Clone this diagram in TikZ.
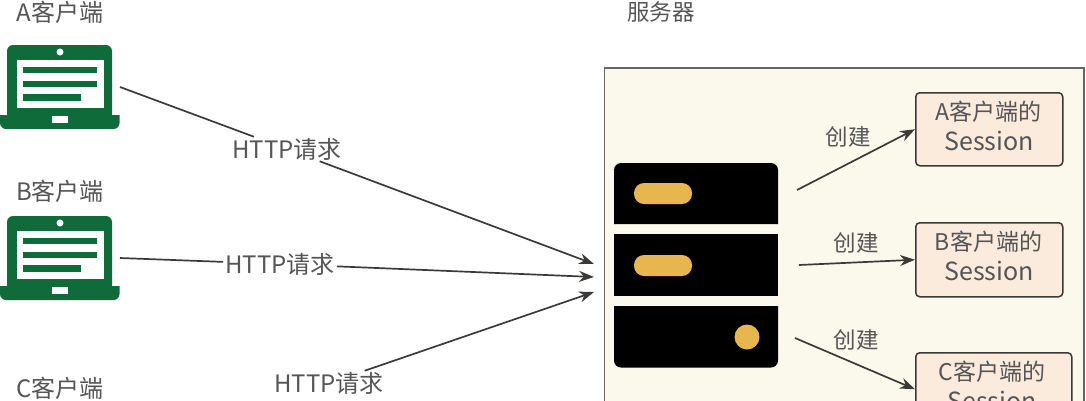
\documentclass[tikz,border=0pt]{standalone}
\usepackage{fontspec}
\setmainfont{Noto Sans CJK SC}
\usetikzlibrary{arrows.meta}
\definecolor{txt}{HTML}{555555}
\definecolor{lnk}{HTML}{3A3A38}
\definecolor{lap}{HTML}{0F6B3A}
\definecolor{panel}{HTML}{FBF8EC}
\definecolor{sess}{HTML}{FAEBDD}
\definecolor{pill}{HTML}{E8B64E}
\tikzset{
  x=1pt,y=-1pt,
  lbl/.style={text=txt,font=\fontsize{24}{28}\selectfont,inner sep=0pt},
  srvlbl/.style={text=txt,font=\fontsize{22.5}{26}\selectfont,inner sep=0pt},
  reqlbl/.style={lbl,fill=white,inner xsep=2pt,inner ysep=1pt},
  mklbl/.style={text=txt,font=\fontsize{22.5}{26}\selectfont,inner sep=0pt},
  sessbox/.style={draw=lnk,line width=1.5pt,fill=sess,rounded corners=4pt,anchor=north west,inner sep=0pt},
  sesstext/.style={text=txt,font=\fontsize{25}{30}\selectfont,inner sep=0pt},
  sesshead/.style={text=txt,font=\fontsize{23}{28}\selectfont,inner sep=0pt},
  link/.style={draw=lnk,line width=1.7pt},
  arrow/.style={link,-{Stealth[length=15pt,width=11pt]}},
  lapbox/.style={minimum width=120pt,minimum height=84pt,inner sep=0pt,outer sep=0pt},
}
\newcommand{\drawlaptop}[1]{%
  \begin{scope}[shift={(0,#1)}]
    \fill[lap] (7,75) [rounded corners=6pt] -- (7,0) -- (112,0) [sharp corners] -- (112,75) -- cycle;
    \fill[lap] (0,70) [rounded corners=6pt] -- (0,84) -- (119.5,84) [sharp corners] -- (119.5,70) -- cycle;
    \fill[white] (16.5,15) rectangle (104,63);
    \fill[white] (60,7) circle (3.5);
    \fill[lap] (23,21.5) rectangle (97,27.5);
    \fill[lap] (23,36) rectangle (97,42);
    \fill[lap] (23,49) rectangle (81,56);
    \fill[white] (52,70.5) rectangle (68,78);
  \end{scope}}
\begin{document}
\begin{tikzpicture}
\useasboundingbox (0,0) rectangle (1086,400);
\clip (0,0) rectangle (1086,400);
% clients
\node[lbl] (tA) at (60,12) {A客户端};
\node[lbl] (tB) at (60,191) {B客户端};
\node[lbl] (tC) at (60,388) {C客户端};
\node[srvlbl] (tS) at (661,12) {服务器};
\drawlaptop{45}
\drawlaptop{216}
\node[lapbox] (lapA) at (60,87) {};
\node[lapbox] (lapB) at (60,258) {};
% server panel
\fill[panel,draw=black!60,line width=1.5pt] (604.5,68) rectangle (1084,430);
% server icon
\fill[black] (614,224) [rounded corners=7pt] -- (614,163) -- (778,163) [sharp corners] -- (778,224) -- cycle;
\fill[black] (614,234) rectangle (778,296);
\fill[black] (614,306) [rounded corners=7pt] -- (614,367.5) -- (778,367.5) [sharp corners] -- (778,306) -- cycle;
\fill[pill,rounded corners=10pt] (634,183) rectangle (692,204);
\fill[pill,rounded corners=10pt] (634,255) rectangle (692,276);
\fill[pill] (747,337) circle (12.5);
\coordinate (inA) at (594,264);
\coordinate (inB) at (594,277);
\coordinate (inC) at (594,292);
\coordinate (outA) at (797,190);
\coordinate (outB) at (799,265);
\coordinate (outC) at (795,338);
% sessions
\node[sessbox,minimum width=147pt,minimum height=73pt] (sA) at (915,92) {};
\node[sessbox,minimum width=147pt,minimum height=74pt] (sB) at (915,222) {};
\node[sessbox,minimum width=156pt,minimum height=73pt] (sC) at (915,352) {};
\node[sesshead] (sAa) at (988.5,112) {A客户端的};
\node[sesstext] (sAb) at (989,141) {Session};
\node[sesshead] (sBa) at (988.5,242) {B客户端的};
\node[sesstext] (sBb) at (989,271) {Session};
\node[sesshead] (sCa) at (992,372) {C客户端的};
\node[sesstext] (sCb) at (992,401) {Session};
% requests
\node[reqlbl] (rA) at (287,149) {HTTP请求};
\node[reqlbl] (rB) at (280,264) {HTTP请求};
\node[reqlbl] (rC) at (329,383) {HTTP请求};
\draw[link] (lapA.east) -- (rA);
\draw[arrow] (rA) -- (inA);
\draw[link] (lapB.east) -- (rB);
\draw[arrow] (rB) -- (inB);
\draw[arrow] (rC) -- (inC);
% create
\draw[arrow] (outA) -- (sA.west);
\draw[arrow] (outB) -- (sB.west);
\draw[arrow] (outC) -- (sC.west);
\node[mklbl] (cA) at (848,137) {创建};
\node[mklbl] (cB) at (856,243) {创建};
\node[mklbl] (cC) at (856,340) {创建};
\end{tikzpicture}
\end{document}
